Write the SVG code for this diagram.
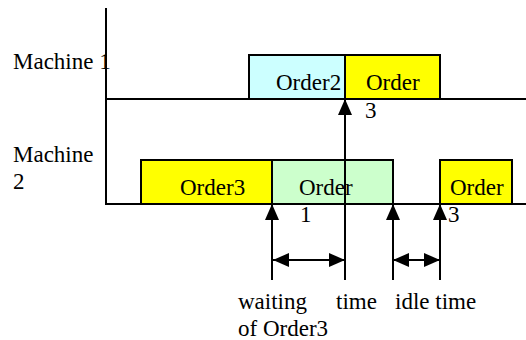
<svg xmlns="http://www.w3.org/2000/svg" width="526" height="340" viewBox="0 0 526 340">
  <style>
    text { font-family: 'Liberation Serif', 'DejaVu Serif', serif; font-size: 23px; fill: #000; }
    .box { stroke: #000; stroke-width: 2; }
    .line { stroke: #000; stroke-width: 2; fill: none; }
  </style>
  <defs>
    <marker id="head" viewBox="0 0 16 14" refX="16" refY="7" markerWidth="16" markerHeight="14" markerUnits="userSpaceOnUse" orient="auto-start-reverse">
      <path d="M0,0 L16,7 L0,14 Z" fill="#000"/>
    </marker>
  </defs>
  <rect width="526" height="340" fill="#fff"/>

  <!-- machine labels -->
  <g id="label-m1"><text x="13" y="69">Machine 1</text></g>
  <g id="label-m2"><text x="13" y="162">Machine</text><text x="13" y="189">2</text></g>

  <!-- machine 1 schedule -->
  <g id="m1-order2"><rect class="box" x="249" y="55" width="96" height="44" fill="#ccffff"/><text x="276" y="90">Order2</text></g>
  <g id="m1-order3"><rect class="box" x="345" y="55" width="95" height="44" fill="#ffff00"/><text x="366" y="90">Order</text><text x="365" y="118">3</text></g>

  <!-- machine 2 schedule -->
  <g id="m2-order3"><rect class="box" x="141" y="160" width="131" height="44" fill="#ffff00"/><text x="180" y="195">Order3</text></g>
  <g id="m2-order1"><rect class="box" x="272" y="160" width="121" height="44" fill="#ccffcc"/><text x="299" y="195">Order</text><text x="300" y="222">1</text></g>
  <g id="m2-order3b"><rect class="box" x="440" y="160" width="72" height="44" fill="#ffff00"/><text x="450" y="195">Order</text><text x="448" y="222">3</text></g>

  <!-- axes, time markers and spans -->
  <g id="connectors">
    <line class="line" x1="106" y1="8" x2="106" y2="205"/>
    <line class="line" x1="106" y1="99" x2="526" y2="99"/>
    <line class="line" x1="106" y1="204" x2="526" y2="204"/>
    <line class="line" x1="272" y1="280" x2="272" y2="204" marker-end="url(#head)"/>
    <line class="line" x1="345" y1="280" x2="345" y2="99" marker-end="url(#head)"/>
    <line class="line" x1="393" y1="280" x2="393" y2="204" marker-end="url(#head)"/>
    <line class="line" x1="440" y1="280" x2="440" y2="204" marker-end="url(#head)"/>
    <line class="line" x1="273" y1="260" x2="345" y2="260" marker-start="url(#head)" marker-end="url(#head)"/>
    <line class="line" x1="393" y1="260" x2="440" y2="260" marker-start="url(#head)" marker-end="url(#head)"/>
  </g>

  <!-- span captions -->
  <g id="caption">
    <text x="238" y="309">waiting</text>
    <text x="336" y="309">time</text>
    <text x="395" y="309">idle time</text>
    <text x="238" y="336">of Order3</text>
  </g>
</svg>
